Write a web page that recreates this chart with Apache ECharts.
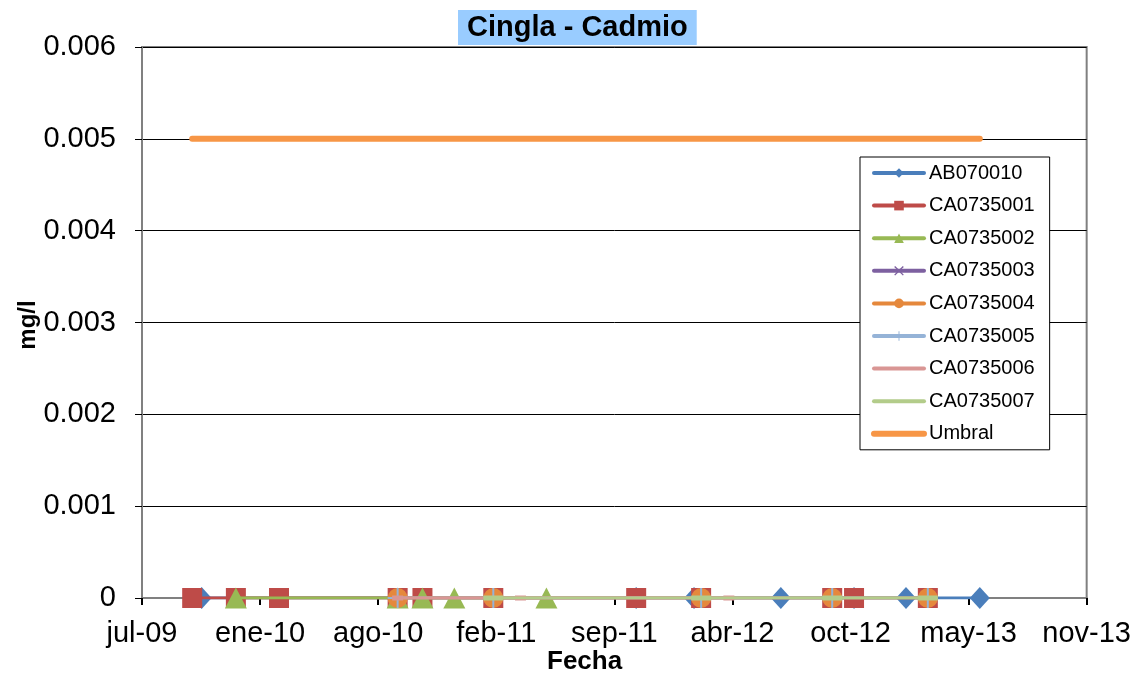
<!DOCTYPE html>
<html>
<head>
<meta charset="utf-8">
<script src="https://cdn.jsdelivr.net/npm/echarts@6/dist/echarts.min.js"></script>
<style>
  html, body { margin: 0; padding: 0; background: #fff; }
  #main { width: 1134px; height: 675px; }
</style>
</head>
<body>
<div id="main"></div>
<script>
// fechas de muestreo por estación (todas con Cd = 0 mg/l)
var ab070010Dates = ['2009-10-15', '2011-10-21', '2012-01-27', '2012-06-22', '2012-10-24', '2013-01-20', '2013-05-25'];
var ab070010Values = [0, 0, 0, 0, 0, 0, 0];
var ca001Dates = ['2009-09-29', '2009-12-12', '2010-02-23', '2010-09-12', '2010-10-24', '2011-02-21', '2011-10-21', '2012-02-08', '2012-09-17', '2012-10-24', '2013-02-26'];
var ca001Values = [0, 0, 0, 0, 0, 0, 0, 0, 0, 0, 0];
var ca002Dates = ['2009-12-12', '2010-09-12', '2010-10-24', '2010-12-17', '2011-05-22'];
var ca002Values = [0, 0, 0, 0, 0];
var ca003Dates = [];
var ca003Values = [];
var ca004Dates = ['2010-09-12', '2011-02-21', '2012-02-08', '2012-09-17', '2013-02-26'];
var ca004Values = [0, 0, 0, 0, 0];
var ca005Dates = ['2010-09-12', '2011-02-21', '2012-02-08', '2012-09-17', '2013-02-26'];
var ca005Values = [0, 0, 0, 0, 0];
var ca006Dates = ['2010-09-12', '2011-04-08', '2012-03-26'];
var ca006Values = [0, 0, 0];
var ca007Dates = ['2011-02-21', '2012-02-08', '2012-09-17', '2013-02-26'];
var ca007Values = [0, 0, 0, 0];
var umbralDates = ['2009-09-29', '2013-05-25'];
var umbralValues = [0.005, 0.005];

// eje X en número de serie de Excel (días), como el original
var xMin = 40000, xMax = 41600, xStep = 200;
var yMin = 0, yMax = 0.006, yStep = 0.001;
var meses = ['ene', 'feb', 'mar', 'abr', 'may', 'jun', 'jul', 'ago', 'sep', 'oct', 'nov', 'dic'];

function toSerial(s) {
    var p = s.split('-').map(Number);
    return Math.round((Date.UTC(p[0], p[1] - 1, p[2]) - Date.UTC(1899, 11, 30)) / 86400000);
}
function serialLabel(v) {
    var d = new Date(Date.UTC(1899, 11, 30) + v * 86400000);
    return meses[d.getUTCMonth()] + '-' + String(d.getUTCFullYear()).slice(2);
}
function pts(dates, vals) {
    return dates.map(function (d, i) { return [toSerial(d), vals[i]]; });
}

var FONT = '"Liberation Sans", Arial, sans-serif';
var plusPath = 'path://M9,0 L11,0 L11,20 L9,20 Z M0,9 L20,9 L20,11 L0,11 Z';
var xPath = 'path://M0,2 L2,0 L10,8 L18,0 L20,2 L12,10 L20,18 L18,20 L10,12 L2,20 L0,18 L8,10 Z';

function serie(name, data, color, symbol, size, z) {
    return {
        type: 'line',
        name: name,
        data: data,
        z: z,
        symbol: symbol,
        symbolSize: size,
        showSymbol: symbol !== 'none',
        itemStyle: { color: color, opacity: 1 },
        lineStyle: { color: color, width: 3, cap: 'round' },
        emphasis: { disabled: true }
    };
}

var sinMarca = { opacity: 0 };

var myChart = echarts.init(document.getElementById('main'));
var option = {
    animation: false,
    backgroundColor: '#fff',
    textStyle: { fontFamily: FONT },
    title: {
        text: 'Cingla - Cadmio',
        left: 458,
        top: 10,
        padding: [3, 9, 3, 9],
        backgroundColor: '#99ccff',
        textStyle: { fontFamily: FONT, fontSize: 29, fontWeight: 'bold', color: '#000' }
    },
    grid: {
        left: 142,
        right: 46,
        top: 47,
        bottom: 77,
        show: true,
        borderColor: '#808080',
        borderWidth: 2,
        backgroundColor: '#fff'
    },
    legend: {
        orient: 'vertical',
        left: 860,
        top: 157,
        padding: [6, 15, 6, 11],
        backgroundColor: '#fff',
        borderColor: '#000',
        borderWidth: 1,
        itemWidth: 50,
        itemHeight: 12,
        itemGap: 12.6,
        lineStyle: { width: 4 },
        textStyle: { fontFamily: FONT, fontSize: 20, color: '#000' },
        data: [
            'AB070010', 'CA0735001', 'CA0735002', 'CA0735003', 'CA0735004', 'CA0735005',
            { name: 'CA0735006', itemStyle: sinMarca },
            { name: 'CA0735007', itemStyle: sinMarca },
            { name: 'Umbral', itemStyle: sinMarca, lineStyle: { width: 6 } }
        ]
    },
    xAxis: {
        type: 'value',
        min: xMin,
        max: xMax,
        interval: xStep,
        axisLine: { show: true, lineStyle: { color: '#808080', width: 2 } },
        axisTick: { show: true, inside: false, length: 7, lineStyle: { color: '#000', width: 2 } },
        axisLabel: { margin: 21, fontSize: 29, color: '#000', fontFamily: FONT, formatter: serialLabel },
        splitLine: { show: false }
    },
    yAxis: {
        type: 'value',
        min: yMin,
        max: yMax,
        interval: yStep,
        axisLine: { show: true, lineStyle: { color: '#808080', width: 2 } },
        axisTick: { show: true, inside: false, length: 7, lineStyle: { color: '#000', width: 1 } },
        axisLabel: { margin: 26, fontSize: 29, color: '#000', fontFamily: FONT },
        splitLine: { show: true, lineStyle: { color: '#000', width: 1 } }
    },
    graphic: [{
        type: 'text',
        left: 547,
        top: 649,
        style: { text: 'Fecha', font: 'bold 26px ' + FONT, fill: '#000' }
    }, {
        type: 'text',
        x: 28,
        y: 325,
        rotation: Math.PI / 2,
        style: { text: 'mg/l', font: 'bold 24px ' + FONT, fill: '#000', align: 'center', verticalAlign: 'middle' }
    }],
    series: [
        serie('AB070010', pts(ab070010Dates, ab070010Values), '#4a7ebb', 'diamond', [20, 22], 2),
        serie('CA0735001', pts(ca001Dates, ca001Values), '#be4b48', 'rect', 20, 3),
        serie('CA0735002', pts(ca002Dates, ca002Values), '#98b954', 'triangle', [22, 21], 4),
        serie('CA0735003', pts(ca003Dates, ca003Values), '#7d60a0', xPath, 12, 5),
        serie('CA0735004', pts(ca004Dates, ca004Values), '#e5883c', 'circle', 20, 6),
        serie('CA0735005', pts(ca005Dates, ca005Values), '#95b3d7', plusPath, 20, 7),
        serie('CA0735006', pts(ca006Dates, ca006Values), '#d99694', 'rect', [11, 5], 8),
        serie('CA0735007', pts(ca007Dates, ca007Values), '#b3cc8a', 'rect', [20, 5], 9),
        serie('Umbral', pts(umbralDates, umbralValues), '#f79646', 'none', 0, 10)
    ]
};
option.series[8].lineStyle.width = 6;
myChart.setOption(option);
</script>
</body>
</html>
